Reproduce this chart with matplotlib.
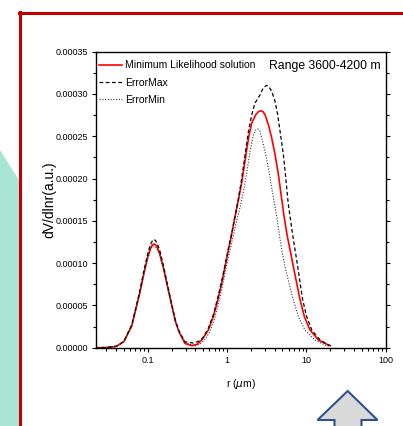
import matplotlib
matplotlib.use("Agg")
import matplotlib.pyplot as plt
from matplotlib.patches import Polygon
from matplotlib.lines import Line2D
from matplotlib.ticker import FormatStrFormatter, MultipleLocator, LogLocator, NullFormatter

# data (r in um, dV/dlnr in a.u.)
r_ml = [0.022, 0.03, 0.04, 0.05, 0.063, 0.079, 0.09, 0.1, 0.108, 0.115, 0.122, 0.13, 0.141,
        0.158, 0.178, 0.2, 0.225, 0.25, 0.295, 0.359, 0.42, 0.48, 0.581, 0.672, 0.764, 0.857,
        0.944, 1.04, 1.15, 1.26, 1.4, 1.53, 1.65, 1.77, 1.89, 2.05, 2.3, 2.48, 2.66, 2.84,
        3.01, 3.32, 3.66, 4.03, 4.44, 4.85, 5.2, 5.66, 6.23, 6.86, 7.56, 8.34, 9.45, 11.1,
        14.2, 18.9, 20]
v_ml = [0.0, 0.0000002, 0.0000015, 0.000007, 0.000026, 0.000064, 0.000089, 0.000107, 0.000117,
        0.000122, 0.0001225, 0.000120, 0.000112, 0.000094, 0.000072, 0.000051, 0.000030,
        0.000018, 0.000005, 0.0000025, 0.000004, 0.0000091, 0.0000209, 0.0000367, 0.0000564,
        0.0000761, 0.0000958, 0.0001155, 0.0001353, 0.0001549, 0.000176, 0.000195, 0.000215,
        0.0002345, 0.0002505, 0.0002657, 0.0002755, 0.000279, 0.0002802, 0.000279, 0.0002755,
        0.0002637, 0.0002479, 0.0002282, 0.0002046, 0.000178, 0.000157, 0.0001353, 0.0001155,
        0.0000958, 0.0000761, 0.0000564, 0.0000367, 0.0000209, 0.0000091, 0.0000032, 0.0000025]

r_max = [0.022, 0.03, 0.04, 0.05, 0.063, 0.079, 0.09, 0.1, 0.108, 0.117, 0.125, 0.133, 0.141,
         0.158, 0.178, 0.2, 0.225, 0.25, 0.295, 0.376, 0.45, 0.5, 0.581, 0.672, 0.764, 0.857,
         0.944, 1.04, 1.15, 1.26, 1.39, 1.53, 1.69, 1.86, 2.05, 2.25, 2.61, 2.85, 3.16, 3.4,
         3.66, 4.03, 4.35, 4.66, 5.13, 5.5, 5.88, 6.23, 6.67, 7.2, 7.79, 8.34, 9.0, 10.1, 11.7,
         14.9, 19, 20]
v_max = [0.0, 0.0000003, 0.0000017, 0.0000075, 0.000027, 0.000066, 0.000092, 0.000111, 0.000122,
         0.000128, 0.000127, 0.000122, 0.000116, 0.000097, 0.000074, 0.000052, 0.000031, 0.000019,
         0.000007, 0.0000055, 0.000008, 0.000012, 0.000023, 0.000039, 0.000059, 0.000079,
         0.000098, 0.000117, 0.000136, 0.000155, 0.000176, 0.0002, 0.0002282, 0.0002559,
         0.0002755, 0.0002893, 0.000299, 0.000307, 0.0003103, 0.000308, 0.0003032, 0.0002913,
         0.0002755, 0.0002559, 0.0002282, 0.0002007, 0.000172, 0.0001549, 0.0001353,
         0.0001155, 0.0000958, 0.0000761, 0.0000564, 0.0000367, 0.0000209, 0.0000091, 0.000003,
         0.0000025]

r_min = [0.022, 0.03, 0.04, 0.05, 0.063, 0.079, 0.09, 0.1, 0.108, 0.115, 0.122, 0.13, 0.141,
         0.158, 0.178, 0.2, 0.225, 0.25, 0.3, 0.38, 0.45, 0.52, 0.6, 0.69, 0.78, 0.87, 0.96,
         1.06, 1.17, 1.3, 1.46, 1.61, 1.77, 1.95, 2.15, 2.3, 2.44, 2.6, 2.74, 3.01, 3.32, 3.66,
         3.96, 4.24, 4.53, 4.9, 5.38, 6.05, 6.86, 7.93, 9.6, 12.9, 17.2, 20]
v_min = [0.0, 0.0000002, 0.0000015, 0.000007, 0.000025, 0.000062, 0.000087, 0.000105, 0.000115,
         0.000120, 0.000120, 0.000117, 0.000110, 0.000093, 0.000071, 0.000050, 0.000030, 0.000018,
         0.000006, 0.000002, 0.000004, 0.000009, 0.000018, 0.000033, 0.000052, 0.000072,
         0.000092, 0.000110, 0.000128, 0.000147, 0.000166, 0.0001849, 0.0002066, 0.0002322,
         0.0002519, 0.0002575, 0.0002589, 0.000256, 0.0002479, 0.0002322, 0.0002125, 0.0001888,
         0.000170, 0.0001549, 0.0001353, 0.0001155, 0.0000958, 0.0000761, 0.0000564, 0.0000367,
         0.0000209, 0.0000091, 0.000003, 0.0000015]

labels = ["Minimum Likelihood solution", "ErrorMax", "ErrorMin"]
title_text = "Range 3600-4200 m"

W, H = 403, 426
plt.rcParams["font.family"] = ["Liberation Sans", "DejaVu Sans"]

fig = plt.figure(figsize=(W / 100, H / 100), dpi=100)


def px(x, y):
    # pixel (from top-left) -> figure fraction
    return (x / W, 1 - y / H)


# slide decorations: teal shape, red frame, gray arrow
fig.add_artist(Polygon([px(0, 150), px(19, 180), px(19, 430), px(0, 430)], closed=True,
                       transform=fig.transFigure, facecolor="#a9e5d3", edgecolor="none"))
fig.add_artist(Line2D([px(20, 0)[0], px(20, 0)[0]], [px(0, 12)[1], px(0, 430)[1]],
                      transform=fig.transFigure, color="#c00000", lw=2.2))
fig.add_artist(Line2D([px(19, 0)[0], px(410, 0)[0]], [px(0, 12.5)[1], px(0, 12.5)[1]],
                      transform=fig.transFigure, color="#c00000", lw=2.2))
arrow = [px(347.7, 391), px(377.5, 420), px(361.5, 420), px(361.5, 432),
         px(334.5, 432), px(334.5, 420), px(317.5, 420)]
fig.add_artist(Polygon(arrow, closed=True, transform=fig.transFigure,
                       facecolor="#d9d9d9", edgecolor="#2f528f", lw=1.5))

l, t = px(95.7, 51.7)
r_, b = px(385.7, 347.7)
ax = fig.add_axes([l, b, r_ - l, t - b])

ax.plot(r_ml, v_ml, color="red", lw=1.2, label=labels[0])
ax.plot(r_max, v_max, color="black", lw=0.9, ls=(0, (3, 2)), label=labels[1])
ax.plot(r_min, v_min, color="#333333", lw=0.8, ls=(0, (1, 1.5)), label=labels[2])

ax.set_xscale("log")
ax.set_xlim(0.0221, 100)
ax.set_ylim(0, 0.00035)
ax.xaxis.set_minor_locator(LogLocator(base=10, subs=range(2, 10), numticks=20))
ax.xaxis.set_minor_formatter(NullFormatter())
ax.set_xticks([0.1, 1, 10, 100])
ax.set_xticklabels(["0.1", "1", "10", "100"])
ax.yaxis.set_major_locator(MultipleLocator(0.00005))
ax.yaxis.set_minor_locator(MultipleLocator(0.000025))
ax.yaxis.set_major_formatter(FormatStrFormatter("%.5f"))

ax.tick_params(which="both", direction="out", labelsize=6.5, width=0.8, colors="black", pad=2.5)
ax.tick_params(which="major", length=3.2)
ax.tick_params(which="minor", length=2)
ax.tick_params(axis="y", which="both", right=True)
for s in ax.spines.values():
    s.set_linewidth(1.0)

ax.set_xlabel("r ($\\mu$m)", fontsize=7.5, labelpad=9)
ax.set_ylabel("dV/dlnr(a.u.)", fontsize=10, labelpad=-1)

ax.legend(loc="upper left", bbox_to_anchor=(0.0, 0.981), frameon=False, fontsize=7.5,
          handlelength=2.2, handletextpad=0.3, borderaxespad=0.0, labelspacing=0.68,
          borderpad=0.3)
ax.text(0.984, 0.952, title_text, transform=ax.transAxes, ha="right", va="center", fontsize=8.8)

fig.savefig("out.png", dpi=100)
